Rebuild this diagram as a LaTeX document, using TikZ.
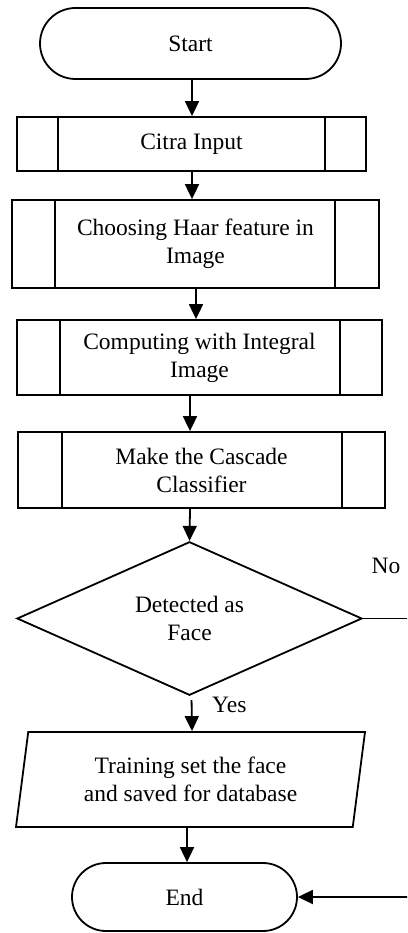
\documentclass[tikz,border=0pt]{standalone}
\usepackage{fontspec}
\setmainfont{Liberation Serif}
\usetikzlibrary{shapes.geometric,shapes.misc,arrows.meta,calc}
\begin{document}
\begin{tikzpicture}[x=1pt,y=-1pt,
  every node/.style={font=\fontsize{23.5}{28}\selectfont, align=center, inner sep=0pt},
  base/.style={draw, line width=1.8pt},
  termbox/.style={base, rounded rectangle},
  procbox/.style={base, rectangle},
  decbox/.style={base, diamond},
  iobox/.style={base, trapezium, trapezium left angle=74.7, trapezium right angle=105.3, trapezium stretches body},
  arr/.style={line width=1.8pt, -{Triangle[width=14pt,length=15pt]}},
  lbl/.style={font=\fontsize{23.5}{28}\selectfont}
]
\useasboundingbox (0,0) rectangle (407,933);
\clip (0,0) rectangle (407,933);

\node[termbox, minimum width=301pt, minimum height=71pt] (start) at (190.5,43.5) {Start};
\node[procbox, minimum width=349pt, minimum height=54pt] (citra) at (191.5,144) {Citra Input};
\node[procbox, minimum width=367pt, minimum height=88pt] (choose) at (195.5,244) {Choosing Haar feature in\\Image};
\node[procbox, minimum width=365pt, minimum height=75pt] (comp) at (199.5,357.5) {Computing with Integral\\Image};
\node[procbox, minimum width=367pt, minimum height=76pt] (make) at (201.5,470) {Make the Cascade\\Classifier};
\node[decbox, minimum width=345pt, minimum height=147pt] (dec) at (189.5,618.5) {Detected as\\Face};
\node[iobox, minimum width=349pt, minimum height=95pt] (train) at (190.5,779.5) {Training set the face\\and saved for database};
\node[termbox, minimum width=225pt, minimum height=68pt] (end) at (184.5,897) {End};

% inner bars of the process boxes
\foreach \n/\l/\r in {citra/42/42, choose/44/45, comp/44/43, make/45/44} {
  \draw[line width=1.8pt] ($(\n.north west)+(\l,0)$) -- ($(\n.south west)+(\l,0)$);
  \draw[line width=1.8pt] ($(\n.north east)-(\r,0)$) -- ($(\n.south east)-(\r,0)$);
}

\draw[arr] ([xshift=1.5pt]start.south) -- ([xshift=1.5pt]start.south |- citra.north);
\draw[arr] ([xshift=0.5pt]citra.south) -- ([xshift=0.5pt]citra.south |- choose.north);
\draw[arr] ([xshift=0.5pt]choose.south) -- ([xshift=-3.5pt]comp.north);
\draw[arr] ([xshift=-9.5pt]comp.south) -- ([xshift=-11.5pt]make.north);
\draw[arr] ([xshift=-11.5pt]make.south) -- (dec.north);
\draw[arr, shorten <=4pt] ([xshift=2pt]dec.south) -- ([xshift=1.5pt]train.north);
\draw[arr] ([xshift=-3.5pt]train.south) -- ([xshift=2.5pt]end.north);

\coordinate (loopA) at (425,618.5);
\coordinate (loopB) at (425,897);
\draw[arr] (dec.east) -- (loopA) -- (loopB) -- (end.east);

\node[lbl, anchor=west] (yes) at (212,705) {Yes};
\node[lbl] (no) at (386,566) {No};
\end{tikzpicture}
\end{document}
